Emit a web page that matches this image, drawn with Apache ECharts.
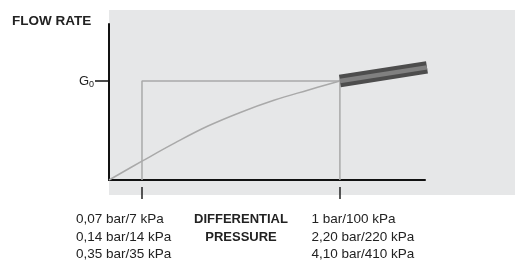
<!DOCTYPE html>
<html lang="en">
<head>
    <meta charset="UTF-8">
    <title>Flow rate / differential pressure</title>
    <script src="https://cdn.jsdelivr.net/npm/echarts@6/dist/echarts.min.js"></script>
    <style>
        html, body { margin: 0; padding: 0; background: #fff; }
        #main { width: 515px; height: 261px; }
    </style>
</head>
<body>
<div id="main"></div>
<script>
    // pressure axis in arbitrary units, G0 = 1
    var curveX = [0, 1, 2, 3, 4, 5, 6, 7];
    var curveY = [0, 0.19, 0.375, 0.545, 0.685, 0.805, 0.905, 1];
    var boxX = [1, 1, 7, 7];
    var boxY = [0, 1, 1, 0];
    var bandX = [7, 9.64];
    var bandY = [1, 1.138];
    var tickValues = [1, 7];
    var tickLabels = [
        ['0,07 bar/7 kPa', '0,14 bar/14 kPa', '0,35 bar/35 kPa'],
        ['1 bar/100 kPa', '2,20 bar/220 kPa', '4,10 bar/410 kPa']
    ];
    var labelShift = [-66, -28.5];
    var g0Value = 1;

    function pairs(xs, ys) {
        return xs.map(function (x, i) { return [x, ys[i]]; });
    }

    var font = 'Liberation Sans, Arial, sans-serif';
    var myChart = echarts.init(document.getElementById('main'));

    // grey panel behind the plot
    var panel = {
        id: 'panel', type: 'rect', z: -10, silent: true,
        shape: { x: 109, y: 10, width: 406, height: 185 },
        style: { fill: '#e6e7e8' }
    };

    myChart.setOption({
        animation: false,
        title: {
            text: 'FLOW RATE',
            left: 7, top: 9,
            textStyle: { fontFamily: font, fontSize: 13.5, fontWeight: 'bold', color: '#222' }
        },
        grid: { left: 109, right: 90, top: 24, bottom: 81 },
        xAxis: [{
            type: 'value', min: 0, max: 9.58,
            axisLine: { lineStyle: { color: '#111', width: 2 } },
            axisTick: { show: false }, axisLabel: { show: false }, splitLine: { show: false }
        }, {
            type: 'value', min: 0, max: 9.58, position: 'bottom', offset: 7,
            axisLine: { show: false },
            axisTick: { customValues: tickValues, length: 12, lineStyle: { color: '#222', width: 1.5 } },
            axisLabel: { show: false }, splitLine: { show: false }
        }],
        yAxis: {
            type: 'value', min: 0, max: 1.576,
            axisLine: { show: true, lineStyle: { color: '#111', width: 2 } },
            axisTick: { show: true, customValues: [g0Value], length: 14, lineStyle: { color: '#111', width: 1.5 } },
            axisLabel: {
                customValues: [g0Value], margin: 15,
                formatter: function () { return 'G{s|0}'; },
                fontFamily: font, fontSize: 13, color: '#222',
                rich: { s: { fontFamily: font, fontSize: 9, color: '#222', padding: [8, 0, 0, 0] } }
            },
            splitLine: { show: false }
        },
        graphic: [panel],
        series: [{
            type: 'line', data: pairs(boxX, boxY), symbol: 'none',
            lineStyle: { color: '#a9a9a9', width: 1.5 }, z: 2
        }, {
            type: 'line', data: pairs(curveX, curveY), symbol: 'none', smooth: 0.4,
            lineStyle: { color: '#a9a9a9', width: 1.5 }, z: 2
        }, {
            type: 'line', data: pairs(bandX, bandY), symbol: 'none',
            lineStyle: { color: '#4d4d4d', width: 12.5, cap: 'butt' }, z: 3
        }, {
            type: 'line', data: pairs(bandX, bandY), symbol: 'none',
            lineStyle: { color: '#808080', width: 4.5, cap: 'butt' }, z: 4
        }]
    });

    // bottom labels under the two pressure ticks
    var elements = [panel];
    tickValues.forEach(function (v, i) {
        var px = myChart.convertToPixel({ xAxisIndex: 0 }, v);
        elements.push({
            id: 'tl' + i, type: 'text', x: px + labelShift[i], y: 211,
            style: { text: tickLabels[i].join('\n'), font: '13.5px ' + font, fill: '#222', lineHeight: 17.5 }
        });
    });
    elements.push({
        id: 'xname', type: 'text', x: 241, y: 211,
        style: { text: 'DIFFERENTIAL\nPRESSURE', font: 'bold 13px ' + font, fill: '#222',
                 lineHeight: 17.5, align: 'center' }
    });
    myChart.setOption({ graphic: elements });
</script>
</body>
</html>
